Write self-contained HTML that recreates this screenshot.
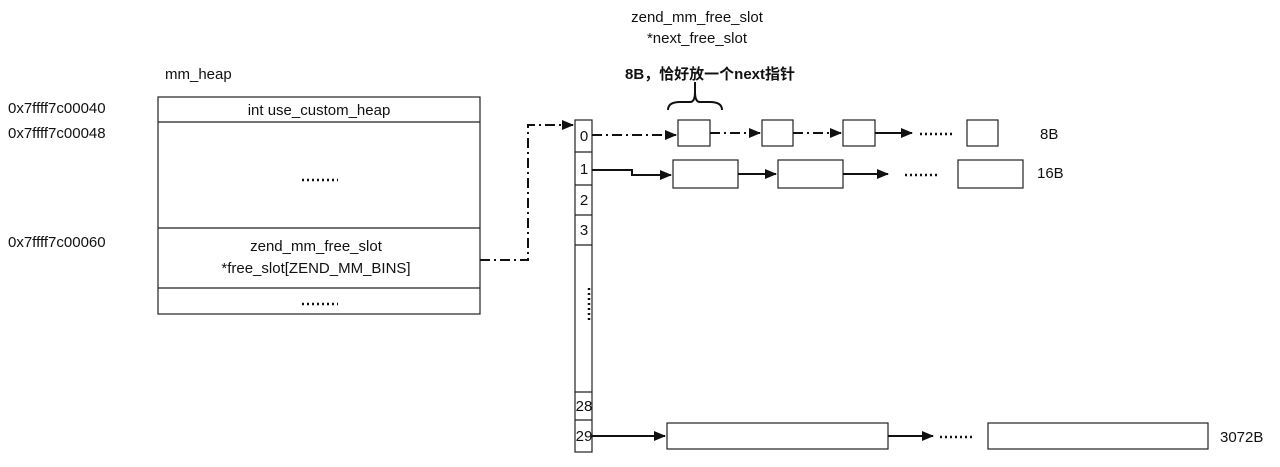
<!DOCTYPE html><html><head><meta charset="utf-8"><style>
body{margin:0;background:#fff;}
svg text{font-family:"Liberation Sans","Noto Sans CJK SC",sans-serif;font-size:15px;fill:#111;}
</style></head><body>
<svg width="1280" height="462" xmlns="http://www.w3.org/2000/svg">
<defs><marker id="a" markerWidth="12" markerHeight="10" refX="11" refY="5" orient="auto" markerUnits="userSpaceOnUse"><path d="M0,0 L12,5 L0,10z" fill="#111"/></marker></defs>
<g fill="none" stroke="#222" stroke-width="1.2">
<rect x="158" y="97" width="322" height="217"/>
<line x1="158" y1="122" x2="480" y2="122"/>
<line x1="158" y1="228" x2="480" y2="228"/>
<line x1="158" y1="288" x2="480" y2="288"/>
<rect x="575" y="120" width="17" height="332"/>
<line x1="575" y1="152" x2="592" y2="152"/><line x1="575" y1="185" x2="592" y2="185"/>
<line x1="575" y1="215" x2="592" y2="215"/><line x1="575" y1="245" x2="592" y2="245"/>
<line x1="575" y1="392" x2="592" y2="392"/><line x1="575" y1="420" x2="592" y2="420"/>
<rect x="678" y="120" width="32" height="26"/><rect x="762" y="120" width="31" height="26"/>
<rect x="843" y="120" width="32" height="26"/><rect x="967" y="120" width="31" height="26"/>
<rect x="673" y="160" width="65" height="28"/><rect x="778" y="160" width="65" height="28"/><rect x="958" y="160" width="65" height="28"/>
<rect x="667" y="423" width="221" height="26"/><rect x="988" y="423" width="220" height="26"/>
</g>
<g fill="none" stroke="#111" stroke-width="2">
<path d="M480,260 H528 V125 H573" stroke-dasharray="10,4,2,4" marker-end="url(#a)"/>
<path d="M592,135 H676" stroke-dasharray="10,4,2,4" marker-end="url(#a)"/>
<path d="M710,133 H760" stroke-dasharray="10,4,2,4" marker-end="url(#a)"/>
<path d="M793,133 H841" stroke-dasharray="10,4,2,4" marker-end="url(#a)"/>
<path d="M875,133 H912" marker-end="url(#a)"/>
<path d="M592,170 H632 V175 H671" marker-end="url(#a)"/>
<path d="M738,174 H776" marker-end="url(#a)"/>
<path d="M843,174 H888" marker-end="url(#a)"/>
<path d="M592,436 H665" marker-end="url(#a)"/>
<path d="M888,436 H933" marker-end="url(#a)"/>
<path d="M668,110 Q668,102 680,102 L690,102 Q695,102 695,92 L695,82 M695,92 Q695,102 700,102 L710,102 Q722,102 722,110"/>
</g>
<g stroke="#111" stroke-width="2.5" stroke-dasharray="2,3">
<line x1="920" y1="134" x2="955" y2="134"/><line x1="905" y1="175" x2="940" y2="175"/><line x1="940" y1="437" x2="975" y2="437"/>
<line x1="302" y1="180" x2="338" y2="180"/><line x1="302" y1="304" x2="338" y2="304"/>
<line x1="589" y1="288" x2="589" y2="322"/>
</g>
<text x="165" y="79">mm_heap</text>
<text x="8" y="113">0x7ffff7c00040</text><text x="8" y="138">0x7ffff7c00048</text><text x="8" y="247">0x7ffff7c00060</text>
<text x="319" y="115" text-anchor="middle">int  use_custom_heap</text>
<text x="316" y="251" text-anchor="middle">zend_mm_free_slot</text>
<text x="316" y="273" text-anchor="middle">*free_slot[ZEND_MM_BINS]</text>
<text x="697" y="22" text-anchor="middle">zend_mm_free_slot</text>
<text x="697" y="43" text-anchor="middle">*next_free_slot</text>
<text x="710" y="79" text-anchor="middle" font-weight="bold">8B，恰好放一个next指针</text>
<g text-anchor="middle"><text x="584" y="141">0</text><text x="584" y="174">1</text><text x="584" y="205">2</text><text x="584" y="235">3</text><text x="584" y="411">28</text><text x="584" y="441">29</text></g>
<text x="1040" y="139">8B</text><text x="1037" y="178">16B</text><text x="1220" y="442">3072B</text>
</svg></body></html>
